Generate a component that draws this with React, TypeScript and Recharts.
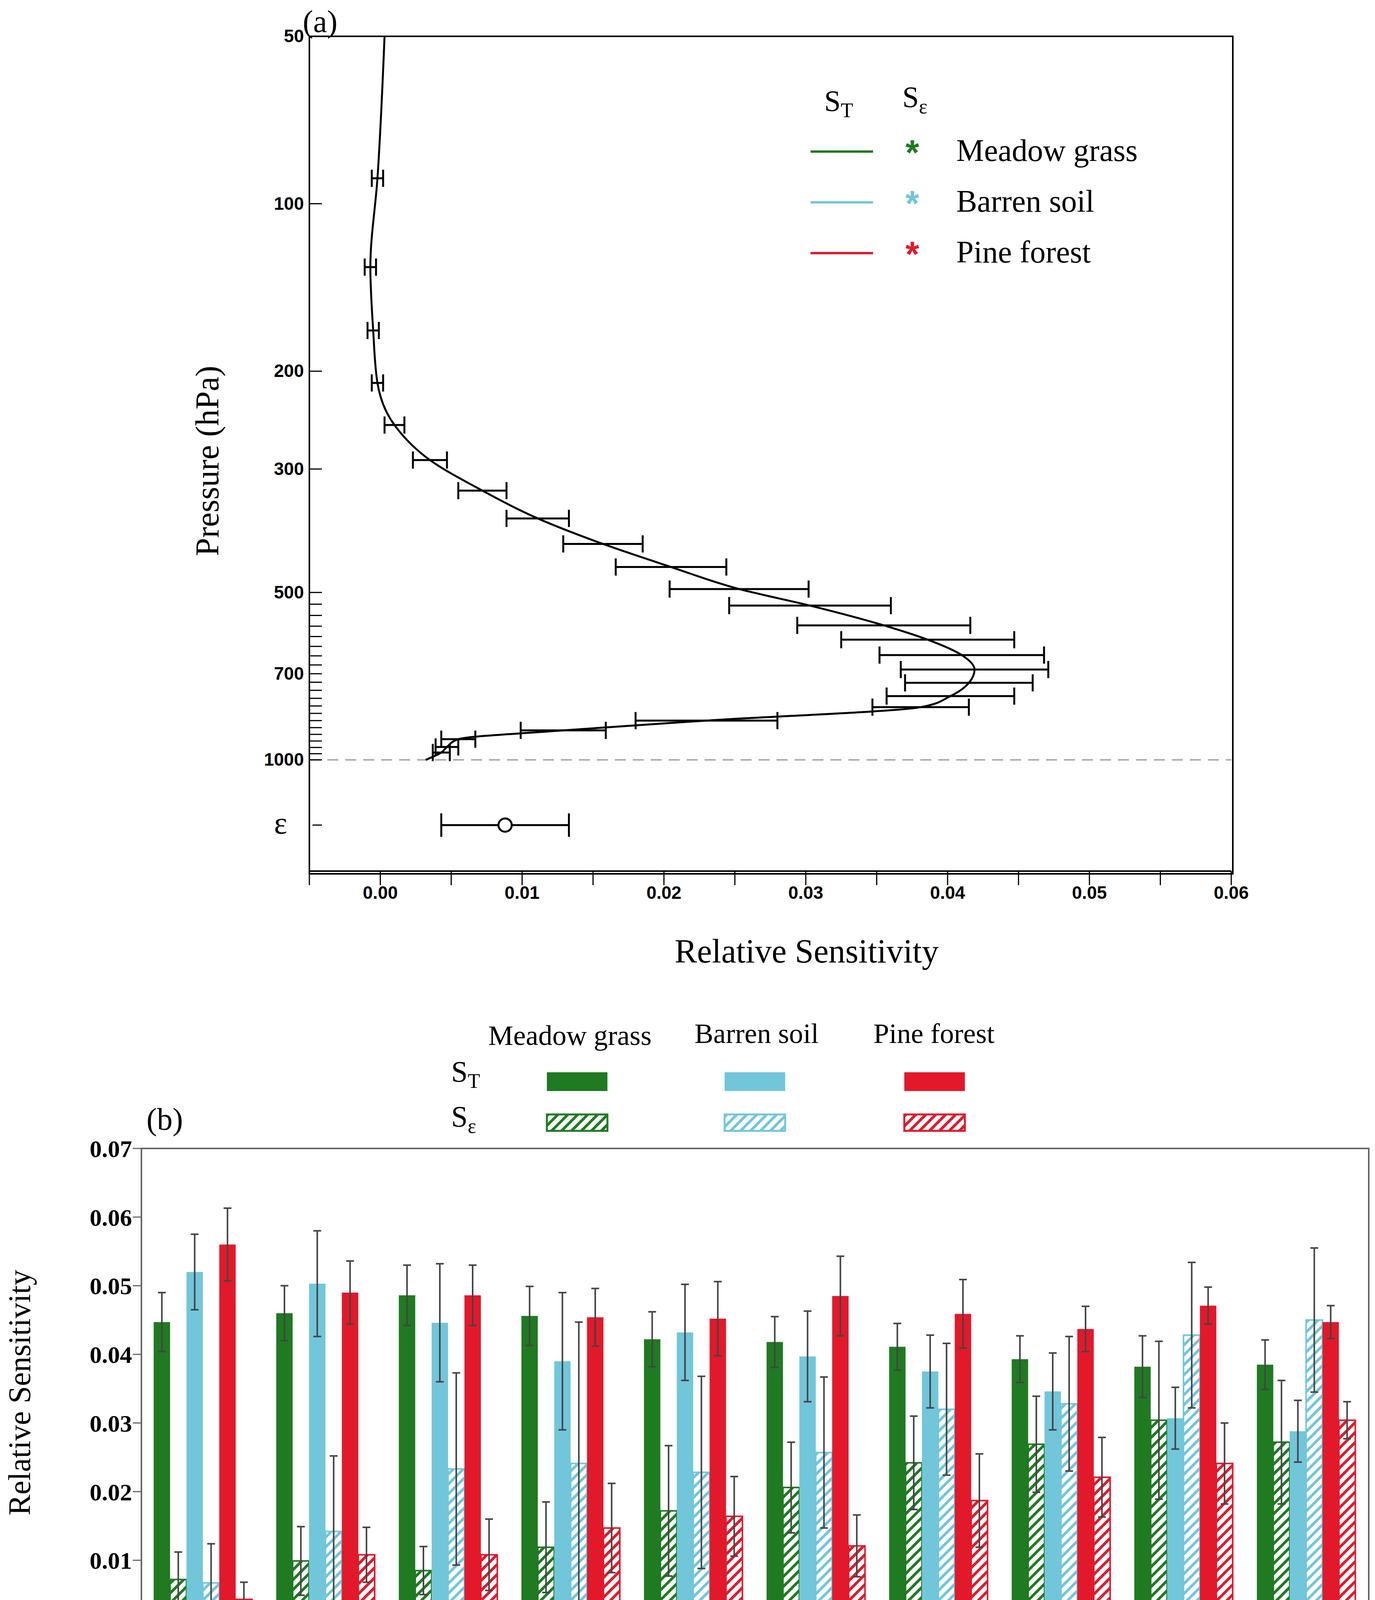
import React from "react";
import {
  ComposedChart, Line, Scatter, XAxis, YAxis, ErrorBar, ReferenceLine,
  BarChart, Bar,
} from "recharts";

// ---- panel (a) ----
const pressure = [50, 90, 130, 169, 210, 250, 289, 328, 368, 409, 450, 493, 528, 573, 608, 648, 688, 727, 768, 804, 850, 885, 918, 948, 970, 1000];
const sens = [0.0003, -0.0002, -0.0007, -0.0005, -0.0002, 0.001, 0.0035, 0.0072, 0.0111, 0.0157, 0.0205, 0.0253, 0.0303, 0.0355, 0.0386, 0.041, 0.0419, 0.0415, 0.0402, 0.0381, 0.023, 0.0129, 0.0055, 0.0047, 0.0043, 0.0032];
const sensErr = [0, 0.0004, 0.0004, 0.0004, 0.0004, 0.0007, 0.0012, 0.0017, 0.0022, 0.0028, 0.0039, 0.0049, 0.0057, 0.0061, 0.0061, 0.0058, 0.0052, 0.0045, 0.0045, 0.0034, 0.005, 0.003, 0.0012, 0.0008, 0.0006, 0];
const epsPoint = [{ s: 0.0088, p: 1310, e: 0.0045 }];
const majorP = [50, 100, 200, 300, 500, 700, 1000];
const minorP = [525, 550, 575, 600, 625, 650, 675, 725, 750, 775, 800, 825, 850, 875, 900, 925, 950, 975];
const sTicks = [-0.005, 0, 0.005, 0.01, 0.015, 0.02, 0.025, 0.03, 0.035, 0.04, 0.045, 0.05, 0.055, 0.06];

// ---- panel (b) ----
const heights = ["150", "300", "450", "600", "750", "900", "1050", "1200", "1350", "1500"];
const meadowT = [0.0447, 0.046, 0.0486, 0.0456, 0.0422, 0.0418, 0.0411, 0.0393, 0.0382, 0.0385];
const meadowTErr = [0.0043, 0.004, 0.0044, 0.0043, 0.004, 0.0037, 0.0034, 0.0034, 0.0045, 0.0036];
const meadowE = [0.0072, 0.0099, 0.0085, 0.0119, 0.0172, 0.0206, 0.0242, 0.0269, 0.0304, 0.0272];
const meadowEErr = [0.004, 0.005, 0.0035, 0.0066, 0.0095, 0.0066, 0.0068, 0.007, 0.0115, 0.009];
const barrenT = [0.052, 0.0503, 0.0446, 0.039, 0.0432, 0.0397, 0.0375, 0.0346, 0.0307, 0.0288];
const barrenTErr = [0.0055, 0.0077, 0.0086, 0.01, 0.007, 0.0066, 0.0053, 0.0056, 0.0045, 0.0045];
const barrenE = [0.0067, 0.0142, 0.0233, 0.0241, 0.0228, 0.0257, 0.032, 0.0328, 0.0428, 0.045];
const barrenEErr = [0.0057, 0.011, 0.014, 0.0206, 0.014, 0.011, 0.0096, 0.0098, 0.0106, 0.0105];
const pineT = [0.056, 0.049, 0.0486, 0.0454, 0.0452, 0.0485, 0.0459, 0.0437, 0.0471, 0.0447];
const pineTErr = [0.0053, 0.0046, 0.0044, 0.0042, 0.0054, 0.0058, 0.005, 0.0033, 0.0027, 0.0024];
const pineE = [0.0043, 0.0108, 0.0108, 0.0147, 0.0164, 0.0121, 0.0187, 0.0221, 0.0241, 0.0304];
const pineEErr = [0.0025, 0.004, 0.0052, 0.0065, 0.0058, 0.0045, 0.0068, 0.0058, 0.0059, 0.0027];
const yTicksB = [0, 0.01, 0.02, 0.03, 0.04, 0.05, 0.06, 0.07];

const GREEN = "#1f7a22";
const CYAN = "#72c6da";
const RED = "#e2192b";
const SERIF = "'Liberation Serif', serif";
const SANS = "'Liberation Sans', sans-serif";

const lineData = pressure.map((p, i) => ({ p, s: sens[i], e: sensErr[i] }));
const barData = heights.map((h, i) => ({
  h,
  gT: meadowT[i], gTe: meadowTErr[i], gE: meadowE[i], gEe: meadowEErr[i],
  cT: barrenT[i], cTe: barrenTErr[i], cE: barrenE[i], cEe: barrenEErr[i],
  rT: pineT[i], rTe: pineTErr[i], rE: pineE[i], rEe: pineEErr[i],
}));

const PTick = (props: any) => {
  const { x, y, payload } = props;
  const v = payload.value;
  const major = majorP.includes(v);
  const eps = v === 1310;
  return (
    <g>
      {!eps && <line x1={x} x2={x + 34} y1={y} y2={y} stroke="#000" strokeWidth={3} />}
      {eps && <line x1={x + 10} x2={x + 34} y1={y} y2={y} stroke="#000" strokeWidth={3} />}
      {major && (
        <text x={x - 12} y={y} dy={15} textAnchor="end" fontFamily={SANS} fontWeight="bold" fontSize={46}>{v}</text>
      )}
      {eps && (
        <text x={x - 55} y={y} dy={22} textAnchor="end" fontFamily={SERIF} fontSize={80}>ε</text>
      )}
    </g>
  );
};

const Hatch = ({ id, color }: { id: string; color: string }) => (
  <pattern id={id} patternUnits="userSpaceOnUse" width={18} height={18} patternTransform="rotate(45)">
    <rect width={18} height={18} fill="#fff" />
    <rect width={7} height={18} fill={color} />
  </pattern>
);

const abs = (left: number, top: number, extra: any = {}) => ({ position: "absolute" as const, left, top, ...extra });

export default function App() {
  return (
    <div style={{ position: "relative", left: -8, top: -8, width: 3520, height: 4430, background: "#fff", fontFamily: SERIF, overflow: "hidden" }}>
      <div style={{ position: "absolute", left: 0, top: 0 }}>
        <ComposedChart width={3520} height={2560} layout="vertical" margin={{ top: 93, right: 368, left: 0, bottom: 200 }}>
          <XAxis type="number" dataKey="s" domain={[-0.005, 0.06]} ticks={sTicks} allowDataOverflow
            tickFormatter={(v: number) => (Math.abs(Math.round(v * 1000) % 10) === 0 && v >= 0 ? v.toFixed(2) : "")}
            tick={{ fontFamily: SANS, fontWeight: "bold", fontSize: 46, fill: "#000" }}
            tickSize={36} tickLine={{ stroke: "#000", strokeWidth: 3 }} axisLine={{ stroke: "#000", strokeWidth: 4 }} height={130} />
          <YAxis type="number" dataKey="p" scale="log" domain={[50, 1585]} allowDataOverflow
            ticks={[...majorP, ...minorP, 1310]} interval={0} tick={<PTick />} tickLine={false} tickSize={0}
            axisLine={{ stroke: "#000", strokeWidth: 4 }} width={792} />
          <ReferenceLine y={1000} stroke="#aaa" strokeDasharray="28 18" strokeWidth={4} />
          <Line data={lineData} dataKey="s" type="monotone" stroke="#000" strokeWidth={5} dot={false} isAnimationActive={false}>
            <ErrorBar dataKey="e" direction="x" width={22} stroke="#000" strokeWidth={5} />
          </Line>
          <Scatter data={epsPoint} dataKey="s" isAnimationActive={false}
            shape={(p: any) => <circle cx={p.cx} cy={p.cy} r={17} fill="#fff" stroke="#000" strokeWidth={5} />}>
            <ErrorBar dataKey="e" direction="x" width={30} stroke="#000" strokeWidth={5} />
          </Scatter>
        </ComposedChart>
      </div>
      <div style={abs(790, 91, { width: 2360, height: 2140, border: "4px solid #000", pointerEvents: "none" })} />
      <div style={abs(775, 10, { fontSize: 80 })}>(a)</div>
      <div style={abs(530, 1180, { fontSize: 84, transform: "translate(-50%,-50%) rotate(-90deg)", whiteSpace: "nowrap" })}>Pressure (hPa)</div>
      <div style={abs(2065, 2385, { fontSize: 86, transform: "translateX(-50%)", whiteSpace: "nowrap" })}>Relative Sensitivity</div>
      {/* legend (a) */}
      <div style={abs(2110, 215, { fontSize: 76 })}>S<sub style={{ fontSize: 52 }}>T</sub></div>
      <div style={abs(2310, 205, { fontSize: 76 })}>S<sub style={{ fontSize: 52 }}>ε</sub></div>
      {[["Meadow grass", GREEN], ["Barren soil", CYAN], ["Pine forest", RED]].map(([t, c], i) => (
        <React.Fragment key={t}>
          <div style={abs(2075, 385 + i * 130, { width: 160, height: 6, background: c })} />
          <div style={abs(2318, 340 + i * 130, { fontSize: 90, color: c, fontWeight: "bold", fontFamily: SANS })}>*</div>
          <div style={abs(2448, 340 + i * 130, { fontSize: 80 })}>{t}</div>
        </React.Fragment>
      ))}

      {/* panel (b) */}
      <div style={{ position: "absolute", left: 0, top: 2600 }}>
        <BarChart width={3520} height={1830} data={barData} margin={{ top: 340, right: 20, left: 0, bottom: 120 }} barCategoryGap="10%" barGap={0}>
          <defs>
            <Hatch id="hg" color={GREEN} />
            <Hatch id="hc" color={CYAN} />
            <Hatch id="hr" color={RED} />
          </defs>
          <XAxis dataKey="h" tick={{ fontFamily: SERIF, fontSize: 70, fill: "#000" }} tickSize={20} tickLine={{ stroke: "#666", strokeWidth: 3 }} axisLine={{ stroke: "#666", strokeWidth: 4 }} height={140} dy={20} />
          <YAxis domain={[0, 0.07]} ticks={yTicksB} tickFormatter={(v: number) => v.toFixed(2)} tick={{ fontFamily: SERIF, fontWeight: "bold", fontSize: 62, fill: "#000" }}
            tickSize={22} tickLine={{ stroke: "#666", strokeWidth: 3 }} axisLine={{ stroke: "#666", strokeWidth: 4 }} width={362} />
          {[
            ["gT", "gTe", GREEN], ["gE", "gEe", "url(#hg)", GREEN],
            ["cT", "cTe", CYAN], ["cE", "cEe", "url(#hc)", CYAN],
            ["rT", "rTe", RED], ["rE", "rEe", "url(#hr)", RED],
          ].map(([k, e, f, s]) => (
            <Bar key={k} dataKey={k} fill={f} stroke={s || "none"} strokeWidth={4} isAnimationActive={false}>
              <ErrorBar dataKey={e} width={10} stroke="#444" strokeWidth={4} />
            </Bar>
          ))}
        </BarChart>
      </div>
      <div style={abs(360, 2938, { width: 3138, height: 1230, border: "4px solid #666", pointerEvents: "none" })} />
      <div style={abs(375, 2820, { fontSize: 80 })}>(b)</div>
      <div style={abs(50, 3565, { fontSize: 80, transform: "translate(-50%,-50%) rotate(-90deg)", whiteSpace: "nowrap" })}>Relative Sensitivity</div>
      <div style={abs(1925, 4305, { fontSize: 86, transform: "translateX(-50%)", whiteSpace: "nowrap" })}>Terrain Height (m)</div>
      {/* legend (b) */}
      <div style={abs(1250, 2610, { fontSize: 72 })}>Meadow grass</div>
      <div style={abs(1778, 2605, { fontSize: 72 })}>Barren soil</div>
      <div style={abs(2236, 2605, { fontSize: 72 })}>Pine forest</div>
      <div style={abs(1155, 2700, { fontSize: 76 })}>S<sub style={{ fontSize: 52 }}>T</sub></div>
      <div style={abs(1155, 2815, { fontSize: 76 })}>S<sub style={{ fontSize: 52 }}>ε</sub></div>
      <svg style={abs(0, 0)} width={3520} height={4430} pointerEvents="none">
        <defs>
          <Hatch id="lg" color={GREEN} />
          <Hatch id="lc" color={CYAN} />
          <Hatch id="lr" color={RED} />
        </defs>
        {[[1400, GREEN, "url(#lg)"], [1855, CYAN, "url(#lc)"], [2315, RED, "url(#lr)"]].map(([x, c, f]) => (
          <g key={c as string}>
            <rect x={x as number} y={2745} width={155} height={48} fill={c as string} />
            <rect x={x as number} y={2853} width={155} height={42} fill={f as string} stroke={c as string} strokeWidth={5} />
          </g>
        ))}
      </svg>
    </div>
  );
}
